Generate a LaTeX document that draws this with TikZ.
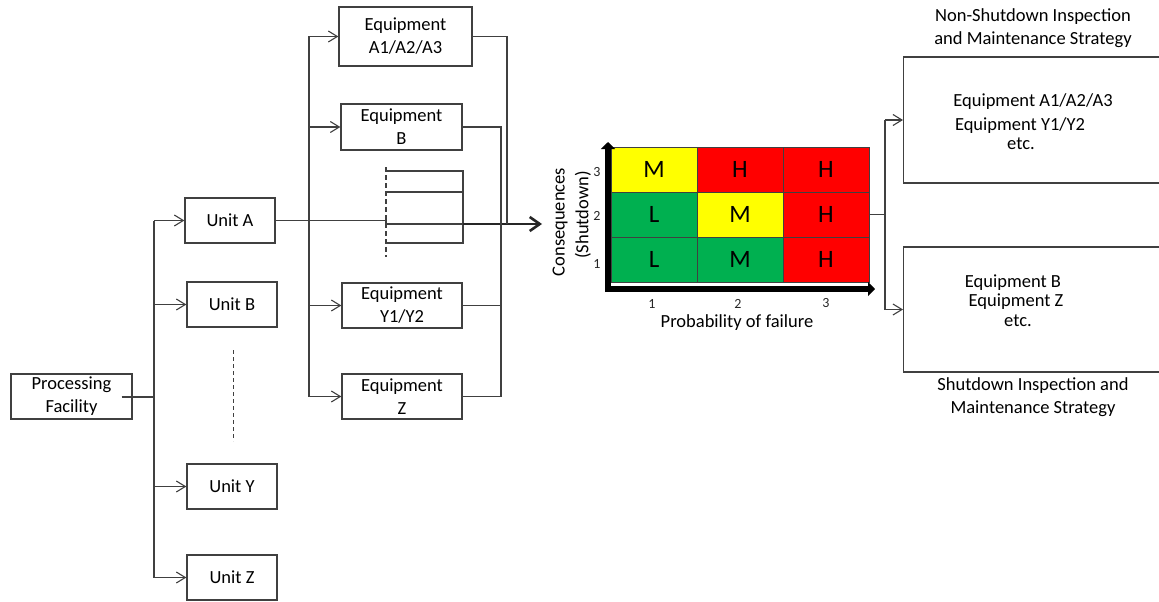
\documentclass[tikz,border=0pt]{standalone}
\usepackage{fontspec}
\setmainfont{Carlito}
\usetikzlibrary{arrows.meta}
\definecolor{lc}{RGB}{64,64,64}
\definecolor{rgreen}{RGB}{0,176,80}
\definecolor{ryellow}{RGB}{255,255,0}
\definecolor{rred}{RGB}{255,0,0}
\begin{document}
\begin{tikzpicture}[x=1pt,y=-1pt,
  font=\fontsize{18.5}{23}\selectfont,
  blk/.style={draw=lc, line width=1.3pt, align=center, inner sep=0pt, text=black},
  conn/.style={draw=lc, line width=1.3pt},
  harr/.style={-{Straight Barb[length=9pt,width=11pt,line width=1.1pt]}},
  cell/.style={draw=black!75, line width=0.8pt, minimum width=86pt, minimum height=45pt, inner sep=0pt, font=\fontsize{25}{30}\selectfont},
  small/.style={font=\fontsize{14}{16}\selectfont, text=black!85},
  plain/.style={inner sep=0pt, align=center}]
\useasboundingbox (0,0) rectangle (1159,602);
\clip (0,0) rectangle (1159,602);
\fill[white] (0,0) rectangle (1159,602);

% left hierarchy
\node[blk, minimum width=121pt, minimum height=45pt] (pf) at (71.5,396.5) {Processing\\Facility};
\node[blk, minimum width=90pt, minimum height=45pt] (ua) at (230,220.5) {Unit A};
\node[blk, minimum width=90pt, minimum height=45pt] (ub) at (232,304.5) {Unit B};
\node[blk, minimum width=90pt, minimum height=45pt] (uy) at (232,486.5) {Unit Y};
\node[blk, minimum width=90pt, minimum height=45pt] (uz) at (232,577.5) {Unit Z};

\coordinate (j0) at (154,396.5);
\coordinate (ja) at (154,220.5);
\coordinate (jb) at (154,304.5);
\coordinate (jy) at (154,486.5);
\coordinate (jz) at (154,577.5);
\draw[conn, line width=2pt] (pf.east) ++(-11,0) -- (j0);
\draw[conn] (ja) -- (jz);
\draw[conn, line width=2.3pt] (jb) -- (j0);
\draw[conn,harr] (ja) -- (ua.west);
\draw[conn,harr] (jb) -- (ub.west);
\draw[conn,harr] (jy) -- (uy.west);
\draw[conn,harr] (jz) -- (uz.west);
\coordinate (d1) at (233,350);
\coordinate (d2) at (233,441);
\draw[lc, line width=1pt, dash pattern=on 4pt off 3pt] (d1) -- (d2);

% equipment
\node[blk, minimum width=133pt, minimum height=59pt] (ea) at (405.5,36.5) {Equipment\\A1/A2/A3};
\node[blk, minimum width=121pt, minimum height=46pt] (eb) at (401.5,127) {Equipment\\B};
\node[blk, minimum width=120pt, minimum height=45pt] (ey) at (402,305.5) {Equipment\\Y1/Y2};
\node[blk, minimum width=120pt, minimum height=45pt] (ez) at (402,396.5) {Equipment\\Z};

\coordinate (ka) at (309,36.5);
\coordinate (kb) at (309,127);
\coordinate (ky) at (309,305.5);
\coordinate (kz) at (309,396.5);
\draw[conn] (ka) -- (kz);
\draw[conn,harr] (ka) -- (ea.west);
\draw[conn,harr] (kb) -- (eb.west);
\draw[conn,harr] (ky) -- (ey.west);
\draw[conn,harr] (kz) -- (ez.west);

\coordinate (s0) at (386,220.5);
\coordinate (s1) at (386,224);
\draw[conn] (ua.east) -- (s0) -- (s1);
\draw[lc, line width=1.1pt, dash pattern=on 5pt off 3pt] (386,167) -- (386,257);
\coordinate (b1) at (463,171);
\coordinate (b2) at (463,192);
\coordinate (b3) at (463,224);
\coordinate (b4) at (463,243);
\draw[conn] (386,171) -- (b1) -- (b4) -- (386,243);
\draw[conn] (386,192) -- (b2);
\draw[conn] (s1) -- (b3);
\coordinate (tip) at (542,224);
\draw[draw=black!85, line width=1.6pt, -{Straight Barb[length=10pt,width=14pt,line width=2.6pt]}] (b3) -- (tip);

\draw[conn] (ea.east) -- (507,36.5) -- (507,224);
\draw[conn] (eb.east) -- (501,127) -- (501,396.5) -- (ez.east);
\draw[conn] (ey.east) -- (501,305.5);

% risk matrix
\node[cell, fill=ryellow] (c31) at (654,169.5) {M};
\node[cell, fill=rred]    (c32) at (740,169.5) {H};
\node[cell, fill=rred]    (c33) at (826,169.5) {H};
\node[cell, fill=rgreen]  (c21) at (654,214.5) {L};
\node[cell, fill=ryellow] (c22) at (740,214.5) {M};
\node[cell, fill=rred]    (c23) at (826,214.5) {H};
\node[cell, fill=rgreen]  (c11) at (654,259.5) {L};
\node[cell, fill=rgreen]  (c12) at (740,259.5) {M};
\node[cell, fill=rred]    (c13) at (826,259.5) {H};

\draw[black, line width=6pt, -{Triangle[length=7pt,width=14pt]}] (608,292) -- (608,142);
\draw[black, line width=6pt, -{Triangle[length=7pt,width=14pt]}] (605,289) -- (875,289);

\node[small] (y3) at (597,172) {3};
\node[small] (y2) at (597,216) {2};
\node[small] (y1) at (597,264) {1};
\node[small] (x1) at (652,304) {1};
\node[small] (x2) at (738,304) {2};
\node[small] (x3) at (826,303) {3};
\node[rotate=90, plain] (cq) at (560,222) {Consequences};
\node[rotate=90, plain] (sd) at (583,215) {(Shutdown)};
\node[plain] (pr) at (737,323) {Probability of failure};

% strategies
\node[blk, minimum width=280pt, minimum height=126pt, anchor=west] (nsb) at (903,120) {};
\node[blk, minimum width=280pt, minimum height=125pt, anchor=west] (sb) at (903,309.5) {};
\coordinate (r0) at (885,214.5);
\coordinate (r1) at (885,120);
\coordinate (r2) at (885,309.5);
\draw[conn] (c23.east) -- (r0);
\draw[conn] (r1) -- (r2);
\draw[conn,harr] (r1) -- (nsb.west);
\draw[conn,harr] (r2) -- (sb.west);

\node[plain] (n1) at (1033,102) {Equipment A1/A2/A3};
\node[plain] (n2) at (1020,126) {Equipment Y1/Y2};
\node[plain] (n3) at (1021,144) {etc.};
\node[plain] (m1) at (1013,283) {Equipment B};
\node[plain] (m2) at (1016,302) {Equipment Z};
\node[plain] (m3) at (1018,321) {etc.};
\node[plain] (tn) at (1033,28) {Non-Shutdown Inspection\\and Maintenance Strategy};
\node[plain] (ts) at (1033,397.5) {Shutdown Inspection and\\Maintenance Strategy};
\end{tikzpicture}
\end{document}
